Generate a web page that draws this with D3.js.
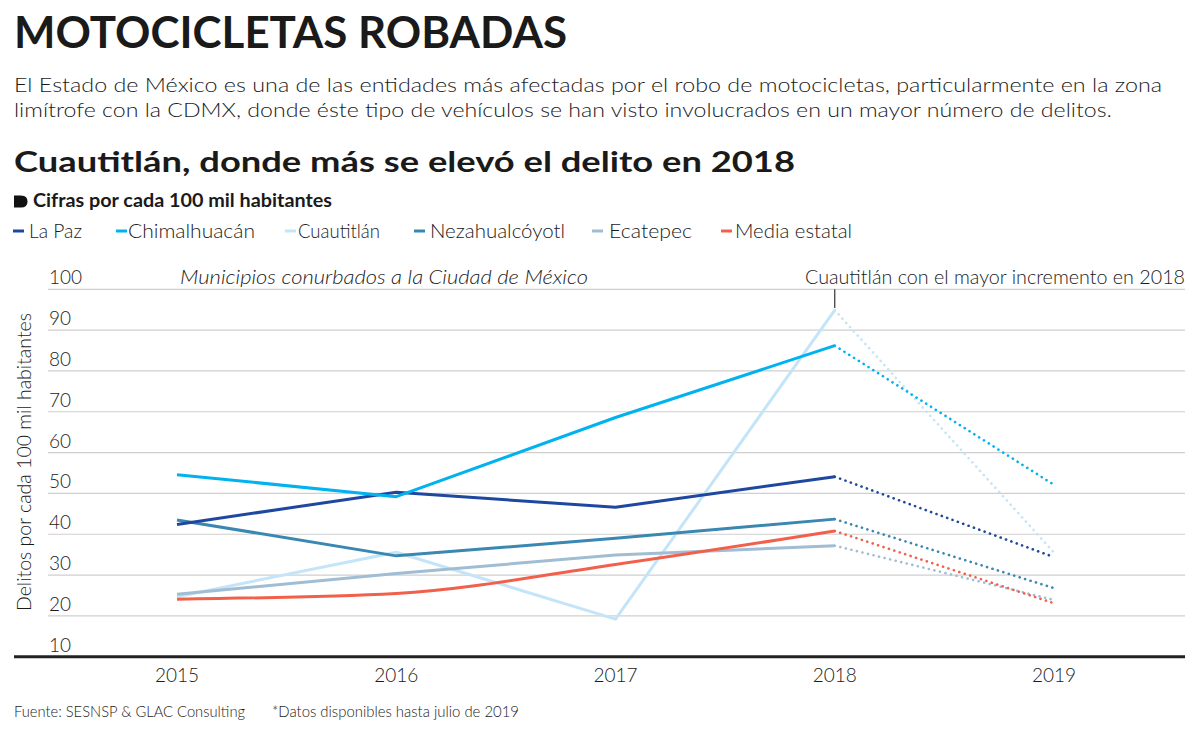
<!DOCTYPE html>
<html><head><meta charset="utf-8">
<script src="https://cdn.jsdelivr.net/npm/d3@7"></script>
<style>
html,body{margin:0;padding:0;background:#fff;}
svg{display:block;}
text{font-family:Lato,"Open Sans",sans-serif;fill:#1a1a1a;}
</style></head>
<body><svg id="c" width="1200" height="735"></svg>
<script>
const years = ["2015","2016","2017","2018","2019"];
const seriesNames = ["La Paz","Chimalhuacán","Cuautitlán","Nezahualcóyotl","Ecatepec","Media estatal"];
const laPaz = [42.4, 50.3, 46.6, 54.1, 34.4];
const chimalhuacan = [54.6, 49.2, 68.6, 86.2, 52.1];
const cuautitlan = [24.7, 35.6, 19.2, 94.9, 35.5];
const nezahualcoyotl = [43.5, 34.7, 39.0, 43.7, 26.8];
const ecatepec = [25.3, 30.4, 34.9, 37.2, 23.9];
const mediaEstatal = [24.1, 25.5, 32.6, 40.8, 23.1];
const yTicks = [10,20,30,40,50,60,70,80,90,100];
const colors = ["#1e47a0","#00b2ee","#c4e5f7","#3a87b1","#a0bdd3","#f2604b"];

const seriesValues = [laPaz, chimalhuacan, cuautitlan, nezahualcoyotl, ecatepec, mediaEstatal];
const series = seriesNames.map((n,i)=>({name:n, values:seriesValues[i], color:colors[i], idx:i}));

const svg = d3.select("#c");
const x = d3.scalePoint().domain(years).range([177, 1054]);
const y = d3.scaleLinear().domain([10,100]).range([656.7, 289.3]);

// Header
svg.append("text").attr("x",14).attr("y",48).attr("font-size",44).attr("font-weight",700)
  .attr("textLength",553).attr("lengthAdjust","spacingAndGlyphs").text("MOTOCICLETAS ROBADAS");
svg.append("text").attr("x",14).attr("y",92).attr("font-size",20.5).attr("font-weight",300)
  .attr("textLength",1148).attr("lengthAdjust","spacingAndGlyphs")
  .text("El Estado de México es una de las entidades más afectadas por el robo de motocicletas, particularmente en la zona");
svg.append("text").attr("x",14).attr("y",116.5).attr("font-size",20.5).attr("font-weight",300)
  .attr("textLength",1098).attr("lengthAdjust","spacingAndGlyphs")
  .text("limítrofe con la CDMX, donde éste tipo de vehículos se han visto involucrados en un mayor número de delitos.");
svg.append("text").attr("x",14).attr("y",172).attr("font-size",28).attr("font-weight",700)
  .attr("textLength",781).attr("lengthAdjust","spacingAndGlyphs")
  .text("Cuautitlán, donde más se elevó el delito en 2018");
svg.append("path").attr("d","M14,195.5 H21 Q27.5,195.5 27.5,201.5 Q27.5,207.5 21,207.5 H14 Z").attr("fill","#111");
svg.append("text").attr("x",33).attr("y",207).attr("font-size",18.5).attr("font-weight",700)
  .attr("textLength",299).attr("lengthAdjust","spacingAndGlyphs")
  .text("Cifras por cada 100 mil habitantes");

// Legend
const legendLineX = [13, 116, 285, 414, 592, 721];
const legendTextX = [29, 128, 298, 430, 609, 735];
const legendTextW = [53, 127, 82, 135, 83, 117];
const lg = svg.append("g");
series.forEach((s,i)=>{
  lg.append("line").attr("x1",legendLineX[i]).attr("x2",legendLineX[i]+11).attr("y1",231).attr("y2",231)
    .attr("stroke",s.color).attr("stroke-width",3);
  lg.append("text").attr("x",legendTextX[i]).attr("y",238).attr("font-size",19.5).attr("font-weight",300)
    .attr("textLength",legendTextW[i]).attr("lengthAdjust","spacingAndGlyphs").text(s.name);
});

// Gridlines and y labels
const grid = svg.append("g");
grid.selectAll("line").data(yTicks.filter(d=>d>10)).join("line")
  .attr("x1",48).attr("x2",1185).attr("y1",d=>y(d)).attr("y2",d=>y(d))
  .attr("stroke","#cfcfcf").attr("stroke-width",1.2);
grid.selectAll("text").data(yTicks).join("text")
  .attr("x",49).attr("y",d=>y(d)-5).attr("font-size",19).attr("font-weight",300)
  .text(d=>d);

// Baseline axis
svg.append("line").attr("x1",14).attr("x2",1185).attr("y1",y(10)).attr("y2",y(10))
  .attr("stroke","#222").attr("stroke-width",3);

// X labels
svg.append("g").selectAll("text").data(years).join("text")
  .attr("x",d=>x(d)).attr("y",682).attr("text-anchor","middle").attr("font-size",19).attr("font-weight",300)
  .text(d=>d);

// Y axis title
svg.append("text").attr("transform","translate(31,462) rotate(-90)").attr("text-anchor","middle")
  .attr("font-size",19.5).attr("font-weight",300).attr("textLength",298).attr("lengthAdjust","spacingAndGlyphs")
  .text("Delitos por cada 100 mil habitantes");

// Annotations
svg.append("text").attr("x",180).attr("y",284).attr("font-size",19).attr("font-weight",300).attr("font-style","italic")
  .attr("textLength",408).attr("lengthAdjust","spacingAndGlyphs")
  .text("Municipios conurbados a la Ciudad de México");
svg.append("text").attr("x",805).attr("y",284).attr("font-size",19).attr("font-weight",300)
  .attr("textLength",380).attr("lengthAdjust","spacingAndGlyphs")
  .text("Cuautitlán con el mayor incremento en 2018");
svg.append("line").attr("x1",x("2018")).attr("x2",x("2018")).attr("y1",y(100)).attr("y2",y(cuautitlan[3])-2)
  .attr("stroke","#333").attr("stroke-width",1.2);

// Lines
const drawOrder = [2,4,3,5,0,1];
const lines = svg.append("g");
drawOrder.forEach(i=>{
  const s = series[i];
  const pts = years.map((yr,k)=>({yr, v:s.values[k]}));
  const gen = d3.line().x(d=>x(d.yr)).y(d=>y(d.v))
    .curve(s.name==="Media estatal" ? d3.curveMonotoneX : d3.curveLinear);
  lines.append("path").attr("d",gen(pts.slice(0,4))).attr("fill","none")
    .attr("stroke",s.color).attr("stroke-width",3).attr("stroke-linejoin","round");
  lines.append("path").attr("d",d3.line().x(d=>x(d.yr)).y(d=>y(d.v))(pts.slice(3,5))).attr("fill","none")
    .attr("stroke",s.color).attr("stroke-width",2.6).attr("stroke-linecap","round")
    .attr("stroke-dasharray","0.1,5.6");
});

// Footer
svg.append("text").attr("x",14).attr("y",717).attr("font-size",15).attr("font-weight",300)
  .attr("textLength",231).attr("lengthAdjust","spacingAndGlyphs").text("Fuente: SESNSP & GLAC Consulting");
svg.append("text").attr("x",272).attr("y",717).attr("font-size",15).attr("font-weight",300)
  .attr("textLength",247).attr("lengthAdjust","spacingAndGlyphs").text("*Datos disponibles hasta julio de 2019");
</script></body></html>
